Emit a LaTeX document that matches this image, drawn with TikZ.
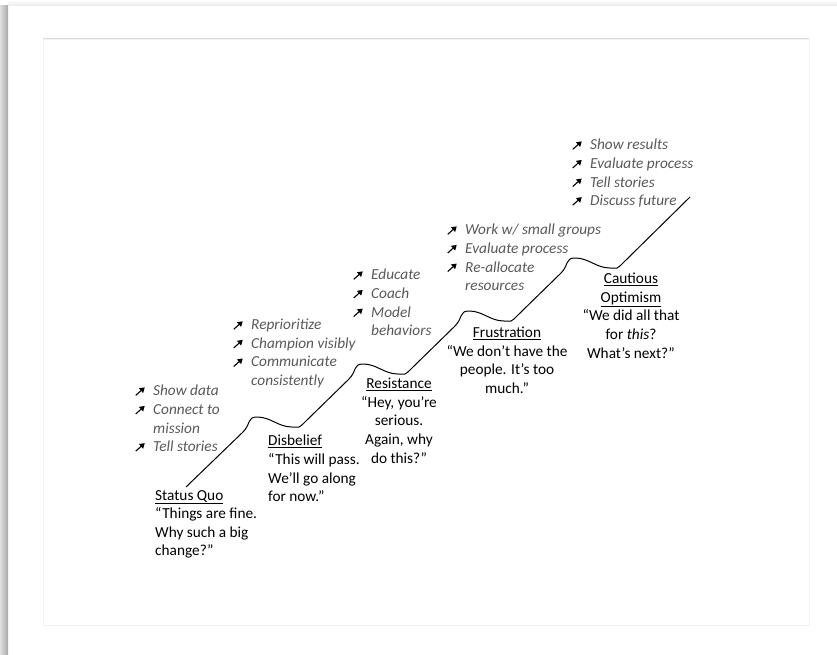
\documentclass[tikz,border=0pt]{standalone}
\usepackage{fontspec}
\setmainfont{Carlito}
\usetikzlibrary{positioning, shadings, arrows.meta}

\definecolor{listGray}{HTML}{595959}
\definecolor{ruleGray}{HTML}{DADADA}
\definecolor{frameGray}{HTML}{F3F3F3}
\definecolor{shadowGray}{HTML}{A8A8A8}

% arrow bullet for the action lists
\newcommand{\ActArrow}{\makebox[18pt][l]{\tikz[baseline=0pt, x=1pt, y=1pt]
    \draw[black, line width=1.1pt, -{Triangle[length=5pt, width=6pt]}] (0.5,0.5) -- (9.5,8.5);}}
\newcommand{\ActGap}{\hspace*{18pt}}

\tikzset{
    % Stage labels
    stageText/.style={font=\fontsize{15.3}{18.6}\selectfont, inner sep=0pt, align=left, anchor=north west},
    stageTextMid/.style={stageText, align=center, anchor=north},
    % Action lists
    actionList/.style={font=\fontsize{15.3}{18.6}\selectfont\itshape, text=listGray, inner sep=0pt, align=left, anchor=north west},
    % Staircase
    stairLine/.style={draw=black, line width=1pt, line join=round}
}

\begin{document}
\begin{tikzpicture}[x=1pt, y=1pt]
    \useasboundingbox (0,0) rectangle (837,-655);

    % Page and shadow
    \fill[white] (0,0) rectangle (837,-655);
    \shade[left color=gray!25, right color=shadowGray] (0,-6) rectangle (8,-655);
    \shade[top color=white, bottom color=gray!18] (8,0) rectangle (837,-6);
    \draw[frameGray] (43,-39) rectangle (809,-625);
    \draw[ruleGray, line width=1pt] (43,-39) -- (809,-39);
    \draw[gray!12, line width=1pt] (43,-625) -- (809,-625);

    % Staircase line
    \draw[stairLine] (186,-487) -- ++(57,55) .. controls +(8,8) and +(-10,0) .. ++(14,15)
        \foreach \s in {1,2,3} {
            .. controls +(14,0) and +(-14,0) .. ++(35,-10)
            .. controls +(8,0) and +(-8,-8) .. ++(14,6) -- ++(43,42)
            .. controls +(8,8) and +(-10,0) .. ++(14,15)
        }
        .. controls +(14,0) and +(-14,0) .. ++(35,-10)
        .. controls +(8,0) and +(-8,-8) .. ++(14,6) -- (690,-197);

    % Stages
    \node[stageText] (statusQuo) at (155,-490) {\underline{Status Quo}\\“Things are fine.\\Why such a big\\change?”};
    \node[stageText] (disbelief) at (268,-435) {\underline{Disbelief}\\“This will pass.\\We’ll go along\\for now.”};
    \node[stageTextMid] (resistance) at (399,-378) {\underline{Resistance}\\“Hey, you’re\\serious.\\Again, why\\do this?”};
    \node[stageTextMid] (frustration) at (507,-327) {\underline{Frustration}\\“We don’t have the\\people. It’s too\\much.”};
    \node[stageTextMid] (optimism) at (631,-273) {\underline{Cautious}\\\underline{Optimism}\\“We did all that\\for \textit{this}?\\What’s next?”};

    % Actions
    \node[actionList] (sqActions) at (135,-385) {\ActArrow Show data\\\ActArrow Connect to\\\ActGap mission\\\ActArrow Tell stories};
    \node[actionList] (dbActions) at (233,-319) {\ActArrow Reprioritize\\\ActArrow Champion visibly\\\ActArrow Communicate\\\ActGap consistently};
    \node[actionList] (rsActions) at (353,-269) {\ActArrow Educate\\\ActArrow Coach\\\ActArrow Model\\\ActGap behaviors};
    \node[actionList] (frActions) at (447,-224) {\ActArrow Work w/ small groups\\\ActArrow Evaluate process\\\ActArrow Re-allocate\\\ActGap resources};
    \node[actionList] (opActions) at (572,-139) {\ActArrow Show results\\\ActArrow Evaluate process\\\ActArrow Tell stories\\\ActArrow Discuss future};
\end{tikzpicture}
\end{document}
